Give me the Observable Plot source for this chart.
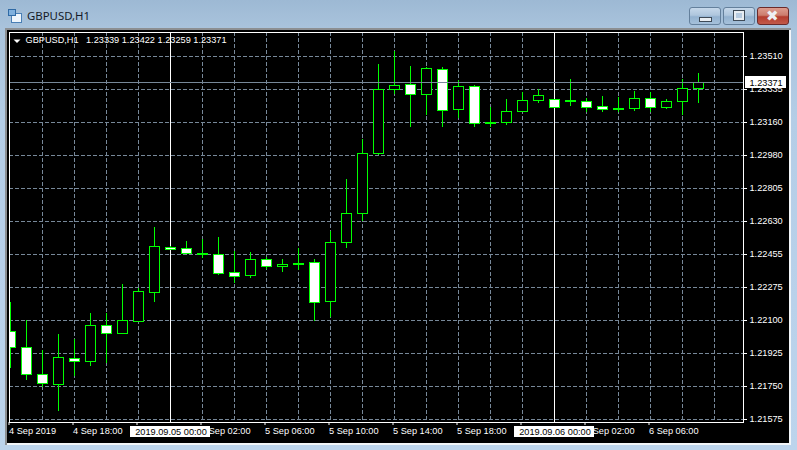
<!DOCTYPE html>
<html>
<head>
<meta charset="utf-8">
<script src="https://cdn.jsdelivr.net/npm/d3@7"></script>
<script src="https://cdn.jsdelivr.net/npm/@observablehq/plot@0.6"></script>
<style>
html,body{margin:0;padding:0;background:#b9d1ea;}
#win{position:relative;width:797px;height:450px;overflow:hidden;
  background:linear-gradient(180deg,#9db9d4 0,#a9c3dc 28px,#b4cde6 120px,#b9d1ea 300px,#bcd4ec 450px);}
#win svg{position:absolute;left:0;top:0;}
#edge{position:absolute;left:5px;top:28px;width:786px;height:417px;background:#f2f5f8;border-top:2px solid #8c8f92;border-left:2px solid #8c8f92;box-sizing:border-box;}
#pane{position:absolute;left:7px;top:30px;width:782px;height:413px;background:#000;}
#cap{position:absolute;left:27px;top:8px;font:11.4px "Noto Sans",sans-serif;color:#141a28;line-height:16px;}
#ico{position:absolute;left:11px;top:13px;width:9px;height:8px;background:#eef5fc;border:1px solid #4a7fb5;}
#ico:before{content:"";position:absolute;left:-4px;top:-5px;width:6px;height:5px;background:#7fb0de;border:1px solid #2f6aa5;}
.btn{position:absolute;top:7px;height:16px;border:1px solid #64809c;border-radius:3px;
  background:linear-gradient(180deg,#c6d8ea 0,#aec6dd 45%,#93b2d0 55%,#a6c1db 100%);}
#bmin{left:689px;width:30px;}
#bmax{left:723px;width:30px;}
#bcls{left:757px;width:30px;border-color:#6b2a2a;background:linear-gradient(180deg,#dd9c8f 0,#cc7d6e 45%,#b43c2e 55%,#c25a4a 100%);}
#bmin i{position:absolute;left:9px;top:9px;width:11px;height:3px;background:#e8edf2;border:1px solid #3e4a57;}
#bmax i{position:absolute;left:10px;top:3px;width:6px;height:5px;background:#b7cbe0;border:2px solid #e8edf2;outline:1px solid #3e4a57;}
#bcls i{position:absolute;left:8px;top:2px;font:900 15px/13px "DejaVu Sans",sans-serif;font-style:normal;color:#eef0f2;}
</style>
</head>
<body>
<div id="win">
  <div id="edge"></div>
  <div id="pane"></div>
  <div id="ico"></div>
  <div id="cap">GBPUSD,H1</div>
  <div class="btn" id="bmin"><i></i></div>
  <div class="btn" id="bmax"><i></i></div>
  <div class="btn" id="bcls"><i>✖</i></div>
</div>
<script>
const symbolLabel = "GBPUSD,H1";
const ohlcLabel = "1.23339 1.23422 1.23259 1.23371";

const opens = [1.22045,1.21960,1.21816,1.21761,1.21901,1.21883,1.22077,1.22035,1.22096,1.22251,1.22493,1.22488,1.22461,1.22456,1.22360,1.22342,1.22429,1.22390,1.22408,1.22413,1.22203,1.22520,1.22674,1.22992,1.23333,1.23362,1.23306,1.23442,1.23226,1.23351,1.23159,1.23157,1.23216,1.23274,1.23282,1.23276,1.23271,1.23245,1.23232,1.23232,1.23287,1.23237,1.23269,1.23339];
const highs = [1.22201,1.22105,1.21942,1.22026,1.21999,1.22138,1.22138,1.22292,1.22271,1.22600,1.22495,1.22525,1.22536,1.22546,1.22468,1.22463,1.22436,1.22429,1.22489,1.22429,1.22578,1.22855,1.23070,1.23470,1.23534,1.23459,1.23450,1.23452,1.23383,1.23353,1.23239,1.23282,1.23319,1.23335,1.23283,1.23385,1.23287,1.23299,1.23289,1.23325,1.23319,1.23282,1.23385,1.23422];
const lows = [1.21846,1.21782,1.21743,1.21617,1.21803,1.21860,1.21875,1.22035,1.22091,1.22198,1.22479,1.22457,1.22432,1.22345,1.22301,1.22329,1.22372,1.22356,1.22368,1.22095,1.22118,1.22484,1.22633,1.22981,1.23309,1.23134,1.23198,1.23134,1.23178,1.23134,1.23134,1.23141,1.23210,1.23262,1.23236,1.23242,1.23210,1.23210,1.23210,1.23216,1.23214,1.23229,1.23198,1.23259];
const closes = [1.21960,1.21814,1.21766,1.21907,1.21885,1.22077,1.22035,1.22104,1.22259,1.22498,1.22480,1.22459,1.22456,1.22352,1.22336,1.22429,1.22390,1.22402,1.22403,1.22198,1.22520,1.22674,1.22994,1.23333,1.23356,1.23306,1.23447,1.23221,1.23351,1.23154,1.23154,1.23218,1.23277,1.23303,1.23237,1.23271,1.23239,1.23226,1.23227,1.23287,1.23237,1.23271,1.23341,1.23371];

const gridPrices = [1.23510,1.23334,1.23158,1.22982,1.22806,1.22631,1.22455,1.22279,1.22103,1.21927,1.21751,1.21575];
const priceLabels = ["1.23510","1.23335","1.23160","1.22980","1.22805","1.22630","1.22455","1.22275","1.22100","1.21925","1.21750","1.21575"];
const timeTicks = [0,4,8,12,16,20,24,28,32,36,40];
const timeLabels = ["4 Sep 2019","4 Sep 18:00","","5 Sep 02:00","5 Sep 06:00","5 Sep 10:00","5 Sep 14:00","5 Sep 18:00","","6 Sep 02:00","6 Sep 06:00"];
const gridHours = d3.range(2, 46, 2);
const separators = [
  {i: 10, label: "2019.09.05 00:00"},
  {i: 34, label: "2019.09.06 00:00"}
];
const lastPrice = 1.23371;
const lastLabel = "1.23371";

const candles = opens.map((o, i) => ({i, o, h: highs[i], l: lows[i], c: closes[i]}));
const GREEN = "#00ff00", GRID = "#778899", WHITE = "#ffffff";
const FS = 9.2;
const halfBody = 5 / 16;
const arrowGlyph = {draw(c) { c.moveTo(-3.5, -1.8); c.lineTo(3.5, -1.8); c.lineTo(0, 1.8); c.closePath(); }};

const chart = Plot.plot({
  width: 797, height: 450,
  marginLeft: 9, marginRight: 54, marginTop: 32, marginBottom: 28,
  style: {background: "transparent", fontFamily: "'Liberation Sans', Arial, sans-serif", fontSize: FS + "px"},
  x: {type: "linear", domain: [0, 46], range: [10, 746], round: true, axis: null},
  y: {type: "linear", domain: [1.21575, 1.23510], range: [419, 56], round: true, axis: null},
  marks: [
    Plot.ruleY(gridPrices, {stroke: GRID, strokeDasharray: "4,2"}),
    Plot.ruleX(gridHours, {stroke: GRID, strokeDasharray: "4,2"}),
    Plot.ruleX(separators, {x: "i", stroke: WHITE}),
    Plot.ruleX(candles, {x: "i", y1: "l", y2: "h", stroke: GREEN, clip: true}),
    Plot.rect(candles, {
      x1: d => d.i - halfBody, x2: d => d.i + halfBody,
      y1: "o", y2: "c",
      fill: d => d.c > d.o ? "#000000" : WHITE,
      stroke: GREEN, strokeWidth: 1, dx: 0.5, dy: 0.5, clip: true
    }),
    Plot.ruleY([lastPrice], {stroke: GRID}),
    Plot.frame({stroke: WHITE}),
    Plot.axisY({
      anchor: "right", ticks: gridPrices, tickSize: 3, tickPadding: 3, label: null,
      tickFormat: d => priceLabels[gridPrices.indexOf(d)],
      color: WHITE, fontSize: FS, textAnchor: "start"
    }),
    Plot.axisX({
      anchor: "bottom", ticks: timeTicks, tickSize: 3, tickPadding: 2, label: null,
      tickFormat: d => timeLabels[timeTicks.indexOf(d)],
      color: WHITE, fontSize: FS, textAnchor: "start", dx: -1.5
    }),
    Plot.rect([lastPrice], {
      x1: 45.94, x2: 48.5,
      y1: d => d + 0.00030, y2: d => d - 0.00029,
      fill: WHITE
    }),
    Plot.text([lastLabel], {x: 46.2, y: [lastPrice], text: d => d, fill: "#000", textAnchor: "start", fontSize: FS, dy: 0.5}),
    Plot.rect(separators, {
      x1: d => d.i - 2.5, x2: d => d.i + 2.5,
      y1: 1.21538, y2: 1.21479,
      fill: WHITE
    }),
    Plot.text(separators, {x: "i", y: 1.21508, text: "label", fill: "#000", fontSize: FS, dx: 0.5}),
    Plot.dot([0], {frameAnchor: "top-left", dx: 7.5, dy: 8.7, symbol: arrowGlyph, r: 3, fill: WHITE, stroke: "none"}),
    Plot.text([symbolLabel], {frameAnchor: "top-left", dx: 16, dy: 3.5, fill: WHITE, fontSize: FS, textAnchor: "start"}),
    Plot.text([ohlcLabel], {frameAnchor: "top-left", dx: 76.5, dy: 3.5, fill: WHITE, fontSize: FS, textAnchor: "start"})
  ]
});
document.getElementById("win").appendChild(chart);
</script>
</body>
</html>
